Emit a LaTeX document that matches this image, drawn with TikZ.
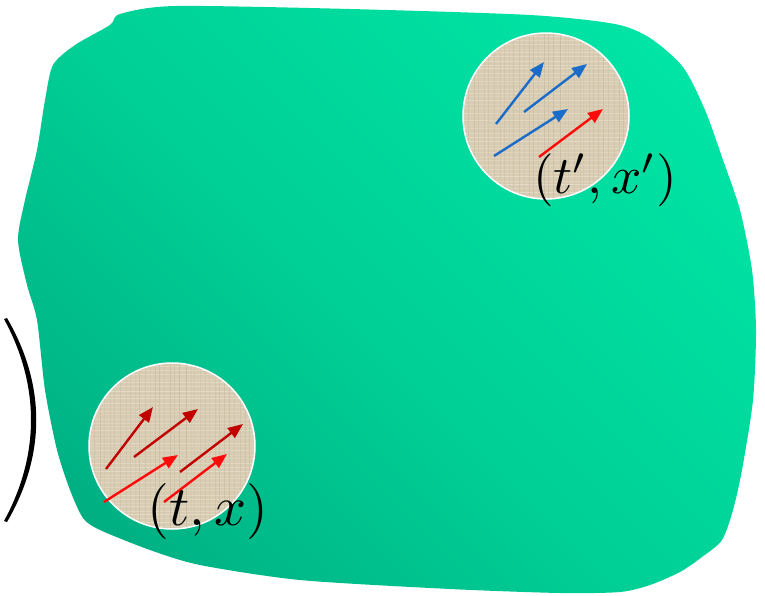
\documentclass[tikz,border=0pt]{standalone}
\usepackage{graphicx}
\usetikzlibrary{arrows.meta}
\definecolor{g0}{HTML}{00785A}
\definecolor{g1}{HTML}{009570}
\definecolor{g2}{HTML}{00B486}
\definecolor{g3}{HTML}{00D096}
\definecolor{g4}{HTML}{00DFA1}
\definecolor{g5}{HTML}{00EBAA}
\definecolor{g6}{HTML}{00F0AE}
\pgfdeclareverticalshading{blobshade}{100bp}{color(0bp)=(g0); color(11bp)=(g1); color(25bp)=(g2); color(48bp)=(g3); color(70bp)=(g4); color(89bp)=(g5); color(100bp)=(g6)}
\definecolor{parch}{HTML}{D8CCB3}
\definecolor{parchL}{HTML}{E7DFCE}
\definecolor{parchD}{HTML}{C4B79C}
\definecolor{vblue}{HTML}{1A6CC8}
\definecolor{vred}{HTML}{FF0A0A}
\definecolor{vdred}{HTML}{C20000}
\tikzset{
  disc/.style={circle, draw=white, line width=1.5pt, minimum size=166pt, inner sep=0pt},
  vec/.style={line width=2.4pt, -{Triangle[length=15pt,width=12pt]}},
  lab/.style={inner sep=0pt},
}
\newcommand\parchtex[2]{%
  \begin{scope}
    \clip (#1,#2) circle (83);
    \fill[parch] (#1,#2) circle (83);
    \pgfmathsetseed{11}
    \foreach \k in {0,...,44}{
      \pgfmathsetmacro\yy{#2-88+\k*4+2*rnd}
      \pgfmathsetmacro\oo{0.35+0.55*rnd}
      \draw[parchL, line width=0.8pt, opacity=\oo] (#1-90,\yy) -- (#1+90,\yy);
    }
    \foreach \k in {0,...,36}{
      \pgfmathsetmacro\xx{#1-88+\k*5+2*rnd}
      \pgfmathsetmacro\oo{0.2+0.4*rnd}
      \draw[parchD, line width=0.6pt, opacity=\oo] (\xx,#2-90) -- (\xx,#2+90);
    }
  \end{scope}}
\begin{document}
\begin{tikzpicture}[x=1pt,y=-1pt]
\useasboundingbox (0,0) rectangle (765,595);
% green blob
\shade[shading=blobshade, shading angle=-45]
  plot[smooth cycle, tension=0.45] coordinates {
  (120,14) (175,6) (350,9) (530,15) (615,24) (650,38) (683,67) (705,110)
  (723,160) (740,210) (752,270) (756,330) (753,400) (742,470) (733,510)
  (722,540) (702,557) (680,572) (650,585) (620,592) (560,593) (450,589)
  (300,580) (200,565) (150,550) (100,530) (83,518) (70,490) (57,450)
  (45,390) (37,320) (27,285) (18,240) (25,200) (37,150) (45,100) (53,65)
  (75,45) (110,25)};
% bracket
\fill[black] (7,318) .. controls (46,385) and (46,455) .. (7,522)
  -- (4,521) .. controls (40,455) and (40,385) .. (4,319) -- cycle;
% top-right disc
\parchtex{546}{116}
\node[disc] (c1) at (546,116) {};
\draw[vec, vblue] (496,124) -- (544,62);
\draw[vec, vblue] (524,112) -- (587,64);
\draw[vec, vblue] (494,156) -- (568,109);
\draw[vec, vred] (539,157) -- (603,109);
\node[lab] (l1) at (605,180) {\scalebox{5.3}{$(t',x')$}};
% bottom-left disc
\parchtex{172}{446}
\node[disc] (c2) at (172,446) {};
\draw[vec, vdred] (106,469) -- (153,407);
\draw[vec, vdred] (134,457) -- (198,409);
\draw[vec, vdred] (180,472) -- (243,424);
\draw[vec, vred] (104,502) -- (178,455);
\draw[vec, vred] (164,502) -- (227,454);
\node[lab] (l2) at (208,511) {\scalebox{5.6}{$(t,x)$}};
\end{tikzpicture}
\end{document}
